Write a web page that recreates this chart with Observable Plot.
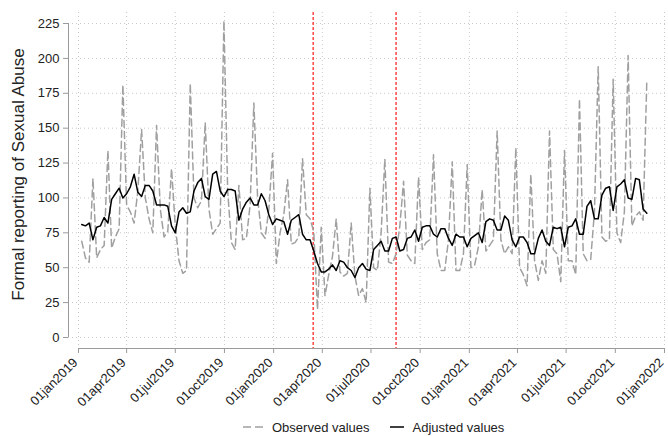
<!DOCTYPE html>
<html>
<head>
<meta charset="utf-8">
<script src="https://cdn.jsdelivr.net/npm/d3@7"></script>
<script src="https://cdn.jsdelivr.net/npm/@observablehq/plot@0.6"></script>
<style>
  html, body { margin: 0; padding: 0; background: #fff; overflow: hidden; }
  body { font-family: "Liberation Sans", Arial, Helvetica, sans-serif; }
  #chart svg { display: block; }
  #legend { height: 18px; display: flex; justify-content: flex-start; align-items: center; font-size: 13px; color: #222; padding-left: 243px; }
  #legend .item { display: flex; align-items: center; margin-right: 20px; white-space: nowrap; }
  #legend svg { margin-right: 9px; }
</style>
</head>
<body>
<div id="chart"></div>
<div id="legend"></div>
<script>
// ---- data ----
const firstWeek = "2019-01-07"; // weekly series start (Monday)
const observed = [
  69,57,54,114,57,63,66,134,64,72,
  78,181,95,90,82,105,149,100,85,75,
  152,92,72,76,121,80,55,46,48,182,
  100,93,98,154,92,74,78,82,227,105,
  68,63,109,70,71,95,168,100,75,71,
  92,132,53,75,88,113,67,68,72,128,
  88,85,76,20,79,30,45,58,85,47,
  44,46,82,44,30,35,25,107,50,48,
  75,128,54,53,60,80,112,59,55,53,
  115,63,68,70,131,60,48,48,70,126,
  48,48,60,124,50,52,65,106,62,66,
  70,148,70,60,65,60,136,50,45,37,
  117,55,41,55,46,148,63,60,40,134,
  55,55,45,171,60,55,56,90,194,72,
  69,70,185,75,68,90,202,80,87,90,
  84,185
];
const adjusted = [
  81,80,82,70,79,80,86,82,99,103,
  107,100,103,108,117,104,101,109,109,105,
  95,95,95,94,80,75,90,93,89,90,
  105,111,114,101,99,117,119,105,101,106,
  106,105,84,92,97,100,95,95,103,98,
  88,81,85,84,83,74,84,86,88,74,
  70,70,62,53,47,47,49,52,48,55,
  54,50,48,43,50,53,49,48,63,66,
  69,62,62,71,72,62,63,71,72,77,
  69,79,80,80,74,72,78,78,71,66,
  74,72,72,65,71,73,75,68,83,85,
  84,77,77,87,84,70,65,72,72,68,
  60,60,71,77,69,66,79,78,79,65,
  79,80,85,74,74,94,98,85,85,102,
  107,108,91,108,110,113,100,99,114,113,
  92,89
];
const yTicks = [0,25,50,75,100,125,150,175,200,225];
const xTickDates = ["2019-01-01","2019-04-01","2019-07-01","2019-10-01","2020-01-01","2020-04-01","2020-07-01","2020-10-01","2021-01-01","2021-04-01","2021-07-01","2021-10-01","2022-01-01"];
const xTickLabels = ["01jan2019","01apr2019","01jul2019","01oct2019","01jan2020","01apr2020","01jul2020","01oct2020","01jan2021","01apr2021","01jul2021","01oct2021","01jan2022"];
const policyDates = ["2020-03-15","2020-08-17"];
const yLabel = "Formal reporting of Sexual Abuse";
const legendLabels = ["Observed values", "Adjusted values"];

// ---- build table ----
const start = new Date(firstWeek + "T00:00:00Z");
const rows = observed.map((v, i) => ({
  date: d3.utcDay.offset(start, 7 * i),
  obs: v,
  adj: adjusted[i]
}));
const ticks = xTickDates.map(s => new Date(s + "T00:00:00Z"));
const policy = policyDates.map(s => new Date(s + "T00:00:00Z"));

const W = 668, H = 418;
const mL = 68, mR = 0, mT = 12, mB = 70;
// plot region padding (Stata style): axes sit slightly outside data range
const xDomain = [new Date(+ticks[0] - 18.7 * 864e5), new Date(+ticks[ticks.length - 1] + 7.5 * 864e5)];
const yDomain = [-7.9, 232.9];

const axisGray = "#9a9a9a";
const chart = Plot.plot({
  width: W, height: H,
  marginLeft: mL, marginRight: mR, marginTop: mT, marginBottom: mB,
  style: { fontFamily: '"Liberation Sans", Arial, Helvetica, sans-serif', background: "#fff", color: "#222", overflow: "visible" },
  x: { type: "utc", domain: xDomain },
  y: { domain: yDomain },
  marks: [
    Plot.gridY(yTicks, { stroke: "#c8c8c8", strokeOpacity: 1, strokeDasharray: "1,3" }),
    Plot.gridX(ticks, { stroke: "#c8c8c8", strokeOpacity: 1, strokeDasharray: "1,3" }),
    Plot.ruleX(policy, { stroke: "#ff4f4f", strokeWidth: 1.6, strokeDasharray: "3,2" }),
    Plot.line(rows, { x: "date", y: "obs", stroke: "#a0a0a0", strokeWidth: 1.5, strokeDasharray: "7,4" }),
    Plot.line(rows, { x: "date", y: "adj", stroke: "#000", strokeWidth: 1.5 }),
    // axis lines
    Plot.ruleX([xDomain[0]], { y1: yTicks[0], y2: yTicks[yTicks.length - 1], stroke: axisGray }),
    Plot.ruleY([yDomain[0]], { x1: ticks[0], x2: ticks[ticks.length - 1], stroke: axisGray }),
    Plot.axisY(yTicks, { tickSize: 5, tickPadding: 4, fontSize: 13, label: null, stroke: axisGray, fill: "#222" }),
    // x ticks
    Plot.axisX(ticks, { tickSize: 5, label: null, stroke: axisGray, fill: "none" }),
    // x tick labels (rotated), nudged left so the last one stays inside
    Plot.axisX(ticks, {
      tickSize: 5, tickRotate: -45, fontSize: 13, label: null, stroke: "none", fill: "#222", dx: -3,
      tickFormat: (d) => xTickLabels[ticks.findIndex(t => +t === +d)]
    }),
    Plot.text([yLabel], { frameAnchor: "left", textAnchor: "middle", rotate: -90, dx: -50, dy: -6, fontSize: 17, fill: "#222" })
  ]
});
document.getElementById("chart").appendChild(chart);

// ---- legend ----
const legend = document.getElementById("legend");
legend.innerHTML =
  `<div class="item"><svg width="20" height="6"><line x1="0" y1="3" x2="20" y2="3" stroke="#a0a0a0" stroke-width="1.5" stroke-dasharray="8,4"/></svg>${legendLabels[0]}</div>` +
  `<div class="item"><svg width="14" height="6"><line x1="0" y1="3" x2="14" y2="3" stroke="#000" stroke-width="1.5"/></svg>${legendLabels[1]}</div>`;
</script>
</body>
</html>
